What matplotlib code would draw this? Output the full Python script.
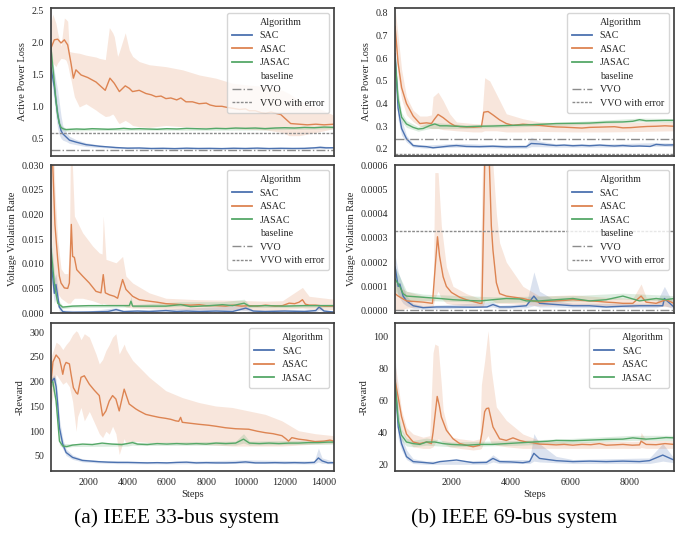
import matplotlib
matplotlib.use("Agg")
import matplotlib.pyplot as plt
from matplotlib.lines import Line2D
from matplotlib.ticker import FormatStrFormatter

plt.rcParams["font.family"] = ["Liberation Serif", "DejaVu Serif"]
plt.rcParams["text.color"] = "0.15"
plt.rcParams["axes.labelcolor"] = "0.15"
plt.rcParams["xtick.color"] = "0.15"
plt.rcParams["ytick.color"] = "0.15"

BLUE = "#4C72B0"
ORANGE = "#DD8452"
GREEN = "#55A868"
BASE = "#8c8c8c"

ALGOS = ["SAC", "ASAC", "JASAC"]

# ---------------- 33-bus : active power loss ----------------
TL_SAC = [(100, 1.60), (270, 1.30), (350, 1.09), (440, 0.88), (525, 0.73), (610, 0.62), (700, 0.57),
          (870, 0.52), (1040, 0.47), (1370, 0.44), (1880, 0.40), (2560, 0.375), (3400, 0.355),
          (4000, 0.345), (4600, 0.348), (5200, 0.340), (5800, 0.343), (6400, 0.338), (7000, 0.345),
          (7600, 0.340), (8200, 0.342), (8800, 0.338), (9400, 0.344), (10000, 0.340), (10600, 0.346),
          (11200, 0.339), (11800, 0.343), (12400, 0.340), (13000, 0.342), (13500, 0.350),
          (13800, 0.358), (14100, 0.350), (14500, 0.352)]
TL_SAC_BAND = [(100, 1.45, 1.75), (270, 1.05, 1.55), (350, 0.82, 1.40), (440, 0.65, 1.25), (525, 0.55, 1.05),
               (610, 0.50, 0.85), (700, 0.47, 0.70), (870, 0.45, 0.60), (1040, 0.42, 0.53), (1370, 0.40, 0.48),
               (1880, 0.37, 0.43), (2560, 0.355, 0.395), (3400, 0.34, 0.37), (5000, 0.328, 0.357),
               (8000, 0.327, 0.356), (11000, 0.328, 0.357), (13000, 0.329, 0.357), (13800, 0.338, 0.38),
               (14500, 0.338, 0.366)]
TL_ASAC = [(100, 1.91), (270, 2.04), (440, 2.05), (610, 1.99), (780, 2.04), (950, 1.96), (1120, 1.67),
           (1240, 1.44), (1370, 1.57), (1630, 1.49), (1970, 1.45), (2390, 1.38), (2860, 1.25), (3100, 1.44),
           (3320, 1.36), (3580, 1.23), (3880, 1.32), (4090, 1.28), (4250, 1.23), (4590, 1.25), (4930, 1.20),
           (5200, 1.18), (5440, 1.15), (5700, 1.16), (5950, 1.12), (6200, 1.13), (6500, 1.10), (6710, 1.13),
           (6970, 1.07), (7300, 1.07), (7640, 1.04), (8000, 1.05), (8200, 1.02), (8490, 1.00), (8800, 1.00),
           (9100, 0.98), (9340, 0.97), (9700, 0.95), (10000, 0.96), (10190, 0.93), (10500, 0.93),
           (10800, 0.90), (11030, 0.89), (11300, 0.91), (11540, 0.89), (11800, 0.87), (12050, 0.80),
           (12300, 0.73), (12730, 0.72), (13150, 0.71), (13580, 0.72), (14000, 0.71), (14500, 0.72)]
TL_ASAC_BAND = [(100, 1.73, 2.30), (190, 1.68, 2.44), (350, 1.62, 2.30), (440, 1.68, 2.15), (610, 1.75, 1.94),
                (780, 1.74, 2.38), (865, 1.72, 2.36), (950, 1.65, 2.33), (1035, 1.52, 1.86), (1120, 1.41, 1.85),
                (1290, 1.15, 1.84), (1540, 0.99, 1.83), (1880, 1.04, 1.80), (2390, 0.94, 1.77), (2560, 0.90, 1.75),
                (2865, 0.84, 1.73), (3070, 0.85, 2.23), (3240, 0.88, 2.15), (3320, 0.85, 2.09), (3490, 0.76, 1.78),
                (3575, 0.73, 1.85), (3880, 0.78, 2.15), (4085, 0.74, 1.88), (4255, 0.70, 1.78), (4590, 0.68, 1.70),
                (5100, 0.67, 1.65), (5950, 0.70, 1.62), (6800, 0.68, 1.57), (7645, 0.67, 1.49), (8490, 0.66, 1.44),
                (9340, 0.65, 1.36), (10200, 0.64, 1.33), (11030, 0.63, 1.31), (11880, 0.59, 1.25),
                (12220, 0.54, 1.20), (12730, 0.54, 1.09), (13575, 0.59, 0.99), (14500, 0.65, 0.86)]
TL_JASAC = [(100, 1.91), (270, 1.36), (350, 1.09), (440, 0.86), (525, 0.73), (610, 0.67), (700, 0.65),
            (870, 0.635), (1100, 0.64), (1400, 0.645), (1800, 0.64), (2200, 0.65), (2600, 0.645), (3000, 0.64),
            (3400, 0.645), (3800, 0.655), (4200, 0.645), (4600, 0.65), (5000, 0.645), (5500, 0.64), (6000, 0.65),
            (6500, 0.645), (7000, 0.655), (7500, 0.65), (8000, 0.645), (8500, 0.655), (9000, 0.65), (9500, 0.66),
            (10000, 0.655), (10500, 0.66), (11000, 0.65), (11500, 0.66), (12000, 0.665), (12500, 0.66),
            (13000, 0.67), (13500, 0.665), (14000, 0.675), (14500, 0.67)]
TL_JASAC_BAND = [(100, 1.82, 1.97), (270, 1.20, 1.50), (350, 0.95, 1.22), (440, 0.76, 0.97), (525, 0.66, 0.80),
                 (610, 0.63, 0.71), (700, 0.62, 0.68), (870, 0.61, 0.66), (2000, 0.62, 0.665), (5000, 0.625, 0.665),
                 (8000, 0.625, 0.67), (11000, 0.63, 0.675), (14500, 0.65, 0.69)]
TL_VVO = 0.31
TL_VVO_ERR = 0.585

# ---------------- 69-bus : active power loss ----------------
TR_SAC = [(100, 0.62), (200, 0.38), (320, 0.29), (485, 0.245), (710, 0.215), (900, 0.212), (1160, 0.21),
          (1380, 0.205), (1610, 0.208), (1940, 0.213), (2170, 0.215), (2500, 0.211), (2950, 0.21),
          (3400, 0.212), (3850, 0.209), (4300, 0.21), (4525, 0.21), (4690, 0.224), (4970, 0.222),
          (5250, 0.218), (5530, 0.215), (5800, 0.217), (6095, 0.214), (6400, 0.216), (6655, 0.214),
          (7000, 0.217), (7220, 0.215), (7500, 0.213), (7780, 0.215), (8100, 0.212), (8340, 0.213),
          (8700, 0.211), (8900, 0.22), (9200, 0.217), (9500, 0.218)]
TR_SAC_BAND = [(100, 0.58, 0.66), (200, 0.33, 0.44), (320, 0.26, 0.33), (485, 0.23, 0.26), (710, 0.208, 0.222),
               (1160, 0.203, 0.217), (2170, 0.208, 0.225), (3400, 0.205, 0.219), (4525, 0.203, 0.218),
               (4690, 0.21, 0.252), (4970, 0.21, 0.235), (5530, 0.208, 0.222), (7220, 0.208, 0.222),
               (8900, 0.212, 0.228), (9500, 0.21, 0.226)]
TR_ASAC = [(100, 0.74), (200, 0.58), (320, 0.47), (485, 0.40), (710, 0.345), (935, 0.312), (1160, 0.315),
           (1325, 0.312), (1420, 0.33), (1550, 0.352), (1720, 0.338), (1940, 0.315), (2110, 0.302),
           (2300, 0.298), (2505, 0.297), (2750, 0.296), (3010, 0.298), (3090, 0.362), (3235, 0.365),
           (3400, 0.350), (3625, 0.328), (3850, 0.312), (4075, 0.304), (4410, 0.309), (4700, 0.306),
           (4970, 0.304), (5250, 0.300), (5530, 0.297), (5800, 0.296), (6095, 0.294), (6400, 0.292),
           (6655, 0.295), (6950, 0.296), (7220, 0.297), (7500, 0.298), (7780, 0.293), (8050, 0.294),
           (8340, 0.297), (8600, 0.299), (8900, 0.300), (9200, 0.302), (9500, 0.300)]
TR_ASAC_BAND = [(100, 0.70, 0.82), (200, 0.52, 0.70), (320, 0.42, 0.55), (485, 0.35, 0.43), (710, 0.32, 0.37),
                (935, 0.30, 0.345), (1160, 0.295, 0.345), (1325, 0.29, 0.35), (1380, 0.29, 0.43),
                (1550, 0.29, 0.45), (1720, 0.285, 0.413), (1940, 0.283, 0.355), (2170, 0.28, 0.319),
                (2730, 0.275, 0.312), (3010, 0.275, 0.31), (3120, 0.28, 0.514), (3290, 0.28, 0.50),
                (3515, 0.28, 0.442), (3850, 0.275, 0.355), (4410, 0.275, 0.333), (4970, 0.277, 0.319),
                (6095, 0.275, 0.314), (7220, 0.275, 0.315), (8340, 0.277, 0.318), (9500, 0.28, 0.32)]
TR_JASAC = [(100, 0.60), (200, 0.42), (320, 0.34), (485, 0.31), (710, 0.295), (880, 0.288), (1045, 0.29),
            (1270, 0.303), (1440, 0.31), (1610, 0.302), (1830, 0.302), (2170, 0.300), (2505, 0.298),
            (2955, 0.300), (3400, 0.301), (3850, 0.303), (4300, 0.305), (4750, 0.307), (5250, 0.31),
            (5530, 0.312), (6095, 0.313), (6655, 0.314), (7220, 0.318), (7780, 0.319), (8115, 0.322),
            (8340, 0.329), (8565, 0.324), (8900, 0.325), (9200, 0.326), (9500, 0.326)]
TR_JASAC_BAND = [(100, 0.56, 0.64), (200, 0.38, 0.46), (320, 0.32, 0.36), (485, 0.295, 0.325),
                 (880, 0.278, 0.298), (1270, 0.29, 0.318), (1610, 0.29, 0.315), (2505, 0.29, 0.306),
                 (4300, 0.298, 0.312), (6095, 0.306, 0.32), (8340, 0.32, 0.336), (9500, 0.318, 0.334)]
TR_VVO = 0.242
TR_VVO_ERR = 0.178

# ---------------- 33-bus : voltage violation rate ----------------
ML_SAC = [(100, 0.011), (270, 0.004), (350, 0.0058), (440, 0.0035), (525, 0.0012), (695, 0.0003),
          (865, 0.0002), (1200, 0.00015), (2000, 0.0002), (3000, 0.0003), (3410, 0.0007), (3800, 0.0003),
          (4500, 0.0004), (5100, 0.0003), (5950, 0.0005), (6500, 0.0003), (7000, 0.0004), (7645, 0.0003),
          (8500, 0.0004), (9340, 0.0003), (10015, 0.0010), (10400, 0.0004), (11000, 0.0003), (12000, 0.0004),
          (13000, 0.0003), (13575, 0.0005), (13745, 0.0012), (14000, 0.0004), (14500, 0.0002)]
ML_SAC_BAND = [(100, 0.007, 0.015), (270, 0.002, 0.007), (350, 0.003, 0.008), (440, 0.0015, 0.0055),
               (525, 0.0004, 0.002), (695, 0.0, 0.0006), (2000, 0.0, 0.0004), (3410, 0.0003, 0.0011),
               (3800, 0.0001, 0.0005), (10015, 0.0005, 0.0015), (10400, 0.0002, 0.0006), (13575, 0.0002, 0.0008),
               (13745, 0.0006, 0.0018), (14000, 0.0002, 0.0006), (14500, 0.0, 0.0004)]
ML_ASAC = [(100, 0.036), (190, 0.030), (300, 0.018), (440, 0.0109), (525, 0.0075), (610, 0.0061), (780, 0.0051),
           (950, 0.0050), (1035, 0.0061), (1135, 0.0180), (1200, 0.0115), (1290, 0.0113), (1410, 0.0088),
           (1710, 0.0075), (2050, 0.0061), (2390, 0.0044), (2645, 0.0041), (2760, 0.0078), (2865, 0.0041),
           (3070, 0.0037), (3320, 0.0034), (3490, 0.0030), (3745, 0.0068), (3915, 0.0048), (4255, 0.0034),
           (4590, 0.0027), (5100, 0.0024), (5500, 0.0022), (5950, 0.0019), (6400, 0.0018), (6800, 0.0017),
           (7200, 0.0016), (7645, 0.0017), (8000, 0.0015), (8490, 0.0015), (9000, 0.0014), (9340, 0.0016),
           (9800, 0.0014), (10185, 0.0015), (10600, 0.0014), (11030, 0.0016), (11500, 0.0014), (11880, 0.0015),
           (12220, 0.0020), (12500, 0.0019), (12730, 0.0022), (12900, 0.0027), (13050, 0.0018), (13240, 0.0016),
           (13575, 0.0016), (14000, 0.0014), (14500, 0.0014)]
ML_ASAC_BAND = [(100, 0.020, 0.045), (190, 0.010, 0.040), (300, 0.006, 0.025), (440, 0.004, 0.015),
                (610, 0.003, 0.009), (780, 0.0025, 0.008), (950, 0.002, 0.008), (1035, 0.002, 0.012),
                (1085, 0.002, 0.032), (1170, 0.0025, 0.032), (1290, 0.003, 0.0197), (1710, 0.003, 0.0163),
                (2220, 0.0025, 0.0136), (2560, 0.002, 0.0122), (2700, 0.0018, 0.012), (2760, 0.002, 0.0197),
                (2900, 0.0018, 0.0109), (3410, 0.0015, 0.0102), (3745, 0.0016, 0.0115), (3915, 0.0012, 0.0075),
                (4255, 0.001, 0.0061), (5100, 0.0009, 0.0041), (5950, 0.0008, 0.003), (7645, 0.0007, 0.0027),
                (9340, 0.0007, 0.0026), (11030, 0.0006, 0.0024), (11880, 0.0006, 0.0025), (12220, 0.0008, 0.0034),
                (12900, 0.0010, 0.0052), (13240, 0.0008, 0.0034), (14500, 0.0007, 0.0028)]
ML_JASAC = [(100, 0.013), (270, 0.006), (440, 0.002), (695, 0.0012), (1200, 0.0014), (2000, 0.0015),
            (3000, 0.0015), (4085, 0.0015), (4170, 0.0024), (4255, 0.0014), (5000, 0.0014), (5950, 0.0014),
            (6710, 0.0017), (7200, 0.0013), (8200, 0.0015), (8830, 0.0017), (9340, 0.0015), (9930, 0.0020),
            (10200, 0.0014), (11000, 0.0015), (12000, 0.0014), (13000, 0.0015), (14500, 0.0015)]
ML_JASAC_BAND = [(100, 0.010, 0.016), (270, 0.004, 0.008), (440, 0.0013, 0.0028), (695, 0.0009, 0.0015),
                 (1200, 0.0011, 0.0017), (4085, 0.0012, 0.0018), (4170, 0.0016, 0.0034), (4255, 0.0011, 0.0017),
                 (6710, 0.0013, 0.0023), (8830, 0.0013, 0.0023), (9930, 0.0015, 0.0028), (10200, 0.0011, 0.0017),
                 (14500, 0.0012, 0.0018)]
ML_VVO = 0.0
ML_VVO_ERR = 0.0

# ---------------- 69-bus : voltage violation rate ----------------
MR_SAC = [(100, 1.8e-4), (205, 1.0e-4), (260, 1.1e-4), (370, 6e-5), (485, 4e-5), (710, 2e-5), (1045, 1.2e-5),
          (1500, 1.5e-5), (2000, 1.5e-5), (2730, 1.4e-5), (3200, 1.5e-5), (3400, 2.5e-5), (3625, 1.5e-5),
          (4000, 1.5e-5), (4525, 2e-5), (4780, 6e-5), (4970, 3e-5), (5530, 2.5e-5), (6095, 2e-5),
          (6655, 2e-5), (7220, 1.5e-5), (7780, 1.8e-5), (8340, 2e-5), (8900, 2e-5), (9125, 2e-5),
          (9180, 5e-5), (9500, 1.5e-5)]
MR_SAC_BAND = [(100, 1.2e-4, 2.3e-4), (205, 6e-5, 1.6e-4), (370, 3e-5, 1e-4), (485, 2e-5, 6e-5),
               (710, 1e-5, 3e-5), (1045, 5e-6, 2e-5), (3400, 1.5e-5, 3.5e-5), (3625, 8e-6, 2.2e-5),
               (4525, 1.2e-5, 2.8e-5), (4780, 2e-5, 1.6e-4), (4970, 1.5e-5, 8e-5), (5530, 1.5e-5, 4e-5),
               (6095, 1.2e-5, 3e-5), (8900, 1.2e-5, 3e-5), (9180, 2e-5, 1.0e-4), (9500, 8e-6, 2.5e-5)]
MR_ASAC = [(100, 7e-5), (205, 6e-5), (485, 4e-5), (1045, 3.5e-5), (1360, 3e-5), (1530, 3.05e-4),
           (1600, 2.25e-4), (1720, 1.4e-4), (1830, 1.0e-4), (2000, 7.5e-5), (2280, 5.5e-5), (2505, 4.5e-5),
           (2955, 3e-5), (3030, 3e-5), (3145, 7.5e-4), (3255, 7.0e-4), (3345, 3.5e-4), (3400, 2.5e-4),
           (3515, 1.15e-4), (3625, 7e-5), (3850, 6e-5), (4410, 5e-5), (4750, 4e-5), (4970, 3.5e-5),
           (5250, 3.8e-5), (5530, 4e-5), (5800, 4.2e-5), (6095, 4.5e-5), (6400, 4.2e-5), (6655, 4e-5),
           (6950, 3.8e-5), (7220, 3.5e-5), (7500, 3.3e-5), (7780, 3e-5), (8115, 3e-5), (8395, 6e-5),
           (8565, 3.5e-5), (8900, 3e-5), (9235, 4.5e-5), (9500, 3e-5)]
MR_ASAC_BAND = [(100, 0.0, 1.2e-4), (205, 0.0, 1.0e-4), (485, 1e-5, 8e-5), (1045, 1.5e-5, 6e-5),
                (1380, 1.5e-5, 5e-5), (1440, 5e-5, 5.7e-4), (1550, 8e-5, 5.7e-4), (1660, 5e-5, 3.5e-4),
                (1830, 3e-5, 1.8e-4), (2055, 2.5e-5, 1.0e-4), (2505, 2e-5, 7e-5), (2955, 1.5e-5, 5e-5),
                (3065, 1.5e-5, 7e-4), (3145, 5e-5, 9e-4), (3290, 5e-5, 9e-4), (3400, 4e-5, 6e-4),
                (3515, 3e-5, 4e-4), (3625, 3e-5, 2.8e-4), (3850, 3e-5, 2e-4), (4410, 2.5e-5, 1.0e-4),
                (4970, 2e-5, 6e-5), (6095, 2.5e-5, 6.5e-5), (7220, 2e-5, 5.5e-5), (8115, 1.5e-5, 5e-5),
                (8395, 2e-5, 1.1e-4), (8565, 2e-5, 5.5e-5), (9500, 1.5e-5, 5e-5)]
MR_JASAC = [(100, 1.3e-4), (260, 1.0e-4), (370, 7e-5), (485, 6e-5), (710, 5.8e-5), (1045, 5.5e-5),
            (1380, 5.2e-5), (1610, 5e-5), (2055, 4.5e-5), (2505, 4.2e-5), (2955, 4e-5), (3400, 4.5e-5),
            (3850, 5e-5), (4300, 4.8e-5), (4525, 4e-5), (4970, 4e-5), (5530, 4.5e-5), (6095, 5e-5),
            (6655, 4e-5), (7220, 4.5e-5), (7780, 6e-5), (8340, 4e-5), (8900, 5e-5), (9235, 4.5e-5),
            (9500, 5e-5)]
MR_JASAC_BAND = [(100, 8e-5, 1.8e-4), (260, 6e-5, 1.4e-4), (485, 4e-5, 8e-5), (1045, 4.2e-5, 6.8e-5),
                 (3400, 3.3e-5, 5.7e-5), (6095, 3.8e-5, 6.2e-5), (7780, 4.8e-5, 7.2e-5), (9500, 3.8e-5, 6.2e-5)]
MR_VVO = 4e-6
MR_VVO_ERR = 3.29e-4

# ---------------- 33-bus : -reward ----------------
BL_SAC = [(100, 199), (270, 207), (361, 190), (440, 155), (530, 107), (699, 74), (868, 57), (1200, 47),
          (1700, 41), (2500, 38.5), (3000, 37.5), (3500, 37), (4000, 37), (4500, 36.5), (5000, 36),
          (5500, 36.5), (6000, 36), (6500, 37), (7000, 37.5), (7500, 36), (8000, 36.5), (8500, 36),
          (9000, 36), (9500, 36.5), (10000, 38), (10500, 36), (11000, 36), (11500, 36.5), (12000, 36),
          (12500, 36.5), (13000, 36), (13500, 37), (13712, 46), (13900, 40), (14200, 36), (14500, 36.5)]
BL_SAC_BAND = [(100, 190, 208), (270, 200, 214), (361, 170, 205), (440, 130, 175), (530, 90, 125),
               (699, 64, 85), (868, 51, 64), (1200, 43, 52), (1700, 38, 44), (2500, 36, 41), (3500, 34.5, 39.5),
               (6000, 34, 38.5), (10000, 35, 42), (13500, 34, 40), (13712, 38, 66), (13900, 35, 46),
               (14500, 34, 39)]
BL_ASAC = [(100, 199), (200, 240), (361, 254), (530, 246), (614, 232), (699, 215), (783, 232), (868, 239),
           (1037, 236), (1121, 215), (1240, 188), (1380, 178), (1459, 175), (1628, 209), (1797, 212),
           (2051, 195), (2300, 183), (2558, 172), (2727, 131), (2896, 141), (3065, 161), (3234, 172),
           (3403, 165), (3572, 141), (3825, 185), (4079, 155), (4417, 145), (4586, 141), (4924, 134),
           (5250, 131), (5600, 128), (5938, 126), (6200, 124), (6445, 121), (6600, 120), (6698, 128),
           (6783, 118), (7200, 116), (7628, 114), (8135, 112), (8500, 110), (8980, 107), (9500, 105),
           (10163, 104), (10600, 100), (11008, 97), (11400, 95), (11853, 91), (12050, 85), (12191, 80),
           (12360, 87), (12698, 84), (13100, 82), (13543, 79), (14000, 80), (14300, 82), (14500, 80)]
BL_ASAC_BAND = [(100, 150, 250), (361, 215, 280), (530, 205, 275), (699, 195, 265), (868, 200, 275),
                (1037, 190, 283), (1200, 160, 295), (1380, 100, 303), (1459, 130, 300), (1628, 148, 285),
                (1797, 121, 297), (2051, 140, 290), (2390, 110, 256), (2558, 95, 236), (2727, 87, 245),
                (2896, 100, 263), (3065, 94, 275), (3234, 110, 290), (3403, 95, 297), (3572, 53, 256),
                (3825, 85, 276), (3915, 74, 265), (4255, 80, 243), (5100, 77, 209), (5938, 77, 182),
                (6783, 75, 168), (7628, 74, 158), (8473, 72, 151), (9318, 70, 148), (11008, 70, 134),
                (11853, 70, 121), (12698, 72, 101), (13543, 74, 95), (14500, 75, 91)]
BL_JASAC = [(100, 199), (190, 200), (360, 161), (530, 80), (700, 70), (900, 69), (1200, 72), (1710, 74),
            (2200, 73), (2700, 76), (3200, 74), (3700, 73), (4250, 77), (4500, 74), (5000, 73), (5500, 75),
            (6000, 74), (6500, 75), (7000, 74), (7500, 75), (8000, 74), (8500, 76), (9000, 75), (9500, 76),
            (9900, 84), (10200, 76), (10700, 75), (11200, 76), (11700, 75), (12200, 76), (12700, 76),
            (13200, 77), (13700, 77), (14200, 78), (14500, 78)]
BL_JASAC_BAND = [(100, 190, 208), (190, 190, 210), (360, 140, 180), (530, 72, 92), (700, 66, 75),
                 (1200, 69, 75), (4000, 70, 77), (4250, 72, 82), (4500, 71, 77), (9500, 72, 80),
                 (9900, 76, 95), (10200, 72, 80), (14500, 74, 82)]

# ---------------- 69-bus : -reward ----------------
BR_SAC = [(100, 72.6), (205, 43.5), (317, 33), (485, 24.8), (710, 21.7), (1160, 21), (1380, 20.6),
          (1610, 21.7), (2170, 22.7), (2730, 21), (3180, 21.2), (3400, 23.7), (3625, 21.7), (4000, 21.5),
          (4410, 21), (4635, 21.7), (4780, 26.9), (4970, 23.7), (5530, 22.3), (6095, 21.7), (6655, 22),
          (7220, 21.7), (7780, 22), (8340, 21.7), (8675, 22.3), (9125, 25.8), (9500, 22.7)]
BR_SAC_BAND = [(100, 60, 89), (205, 36, 54), (317, 29, 38), (485, 23, 29), (710, 20.5, 23.5),
               (1160, 20, 22), (3180, 20, 22.5), (3400, 21.5, 26), (3625, 20.5, 23), (4635, 20.5, 23),
               (4780, 22, 39.3), (4970, 21.5, 33), (5530, 21, 25), (6095, 20.5, 23), (8675, 20.5, 24),
               (9125, 22, 33), (9500, 21, 24)]
BR_ASAC = [(100, 72.6), (205, 62), (317, 50), (485, 39), (710, 34), (935, 33), (1160, 34), (1325, 33),
           (1380, 40), (1520, 62.6), (1590, 57), (1660, 49.7), (1830, 41.4), (2055, 36), (2280, 33),
           (2505, 32), (2730, 31), (2955, 32), (3030, 40), (3120, 53), (3180, 55), (3255, 55.3), (3320, 50),
           (3400, 43.5), (3625, 36), (3850, 35), (4075, 36.6), (4300, 35), (4525, 34), (4750, 33.5),
           (4970, 32.7), (5250, 32.5), (5530, 32.2), (5800, 32.5), (6095, 32), (6400, 32.5), (6700, 32.3),
           (6990, 33), (7220, 32), (7500, 32.2), (7780, 32.5), (8100, 32), (8340, 32.2), (8395, 34.5),
           (8565, 32.5), (8900, 32.3), (9200, 33), (9500, 32.5)]
BR_ASAC_BAND = [(100, 64, 83), (205, 52, 70), (317, 41, 54), (485, 35, 43), (710, 31, 39), (1045, 30, 37),
                (1270, 30, 38), (1380, 31, 90), (1440, 33, 95.5), (1550, 36, 94.4), (1660, 35, 70),
                (1720, 33, 54), (1940, 31, 37.5), (2280, 30, 36), (2730, 29, 35), (2955, 29.5, 36),
                (3010, 30, 70), (3120, 35, 85), (3235, 38, 103.8), (3345, 33, 79), (3515, 32, 56),
                (3850, 31, 47.6), (4410, 30, 39), (4970, 30, 35), (6095, 30, 34), (8340, 30, 34.5),
                (8395, 30.5, 40), (8565, 30, 35), (9500, 30, 35)]
BR_JASAC = [(100, 70.5), (205, 47.6), (317, 38.3), (485, 34), (710, 33), (935, 32.5), (1160, 34), (1440, 34),
            (1720, 33), (2000, 32.5), (2505, 32), (2955, 32.5), (3400, 32.5), (3850, 33), (4300, 33.5),
            (4750, 34), (5250, 34.5), (5530, 35), (6095, 34.8), (6655, 35.2), (7220, 35.6), (7780, 35.8),
            (8115, 36.6), (8565, 35.8), (8900, 36.2), (9235, 36.8), (9500, 36.6)]
BR_JASAC_BAND = [(100, 64, 77), (205, 42, 53), (317, 35, 42), (485, 31.5, 36.5), (710, 31, 35),
                 (1160, 32, 36.5), (2000, 31, 34), (4300, 32, 35), (6095, 33.3, 36.3), (8115, 35, 38.2),
                 (9500, 35, 38.2)]

COLORS = {"SAC": BLUE, "ASAC": ORANGE, "JASAC": GREEN}


def draw_series(ax, mean, band, color):
    bx = [b[0] for b in band]
    ax.fill_between(bx, [b[1] for b in band], [b[2] for b in band],
                    color=color, alpha=0.2, linewidth=0)
    ax.plot([m[0] for m in mean], [m[1] for m in mean], color=color, lw=1.0)


def add_legend(ax, baseline):
    blank = Line2D([], [], linestyle="none")
    handles = [blank] + [Line2D([], [], color=COLORS[a], lw=1.3) for a in ALGOS]
    labels = ["Algorithm"] + ALGOS
    if baseline:
        handles += [blank,
                    Line2D([], [], color=BASE, lw=1.0, ls="-."),
                    Line2D([], [], color=BASE, lw=1.0, ls=(0, (2, 1)))]
        labels += ["baseline", "VVO", "VVO with error"]
    leg = ax.legend(handles, labels, loc="upper right", fontsize=7.2, framealpha=0.8,
                    labelspacing=0.45, handlelength=2.0, borderpad=0.5)
    leg.get_frame().set_edgecolor("0.8")


def style_axes(ax, xlim, ylim, yticks, fmt, show_x, xticks):
    ax.set_xlim(*xlim)
    ax.set_ylim(*ylim)
    ax.set_yticks(yticks)
    ax.yaxis.set_major_formatter(FormatStrFormatter(fmt))
    ax.set_xticks(xticks)
    ax.tick_params(length=0, labelsize=7.2, pad=5)
    if not show_x:
        ax.set_xticklabels([])
    else:
        ax.set_xlabel("Steps", fontsize=7.5, labelpad=2)
    for s in ax.spines.values():
        s.set_color("0.25")
        s.set_linewidth(1.25)


fig = plt.figure(figsize=(6.8, 5.37), dpi=100)

cols = [0.075, 0.581]
widths = [0.416, 0.410]
rows = [0.7104, 0.4171, 0.1229]
height = 0.2750

LEFT_X = [2000, 4000, 6000, 8000, 10000, 12000, 14000]
RIGHT_X = [2000, 4000, 6000, 8000]

panels = [
    # (row, col, data, ylabel, ylim, yticks, fmt, baselines)
    (0, 0, [(TL_SAC, TL_SAC_BAND), (TL_ASAC, TL_ASAC_BAND), (TL_JASAC, TL_JASAC_BAND)],
     "Active Power Loss", (0.23, 2.54), [0.5, 1.0, 1.5, 2.0, 2.5], "%.1f", (TL_VVO, TL_VVO_ERR)),
    (0, 1, [(TR_SAC, TR_SAC_BAND), (TR_ASAC, TR_ASAC_BAND), (TR_JASAC, TR_JASAC_BAND)],
     "Active Power Loss", (0.171, 0.822), [0.2, 0.3, 0.4, 0.5, 0.6, 0.7, 0.8], "%.1f", (TR_VVO, TR_VVO_ERR)),
    (1, 0, [(ML_SAC, ML_SAC_BAND), (ML_ASAC, ML_ASAC_BAND), (ML_JASAC, ML_JASAC_BAND)],
     "Voltage Violation Rate", (0.0, 0.030), [0, 0.005, 0.010, 0.015, 0.020, 0.025, 0.030], "%.3f",
     (ML_VVO, ML_VVO_ERR)),
    (1, 1, [(MR_SAC, MR_SAC_BAND), (MR_ASAC, MR_ASAC_BAND), (MR_JASAC, MR_JASAC_BAND)],
     "Voltage Violation Rate", (-0.00001, 0.0006), [0, 0.0001, 0.0002, 0.0003, 0.0004, 0.0005, 0.0006],
     "%.4f", (MR_VVO, MR_VVO_ERR)),
    (2, 0, [(BL_SAC, BL_SAC_BAND), (BL_ASAC, BL_ASAC_BAND), (BL_JASAC, BL_JASAC_BAND)],
     "-Reward", (19.6, 318), [50, 100, 150, 200, 250, 300], "%d", None),
    (2, 1, [(BR_SAC, BR_SAC_BAND), (BR_ASAC, BR_ASAC_BAND), (BR_JASAC, BR_JASAC_BAND)],
     "-Reward", (15.8, 108.5), [20, 40, 60, 80, 100], "%d", None),
]

for r, c, series, ylabel, ylim, yticks, fmt, base in panels:
    ax = fig.add_axes([cols[c], rows[r], widths[c], height])
    for (mean, band), algo in zip(series, ALGOS):
        draw_series(ax, mean, band, COLORS[algo])
    if base is not None:
        ax.axhline(base[0], color=BASE, lw=1.0, ls="-.")
        ax.axhline(base[1], color=BASE, lw=1.0, ls=(0, (2, 1)))
    xlim = (100, 14500) if c == 0 else (100, 9500)
    style_axes(ax, xlim, ylim, yticks, fmt, r == 2, LEFT_X if c == 0 else RIGHT_X)
    ax.set_ylabel(ylabel, fontsize=7.5, labelpad=3)
    add_legend(ax, base is not None)

fig.text(0.26, 0.035, "(a) IEEE 33-bus system", fontsize=15.5, ha="center", va="center", color="black")
fig.text(0.756, 0.035, "(b) IEEE 69-bus system", fontsize=15.5, ha="center", va="center", color="black")

fig.savefig("out.png", dpi=100, facecolor="white")
